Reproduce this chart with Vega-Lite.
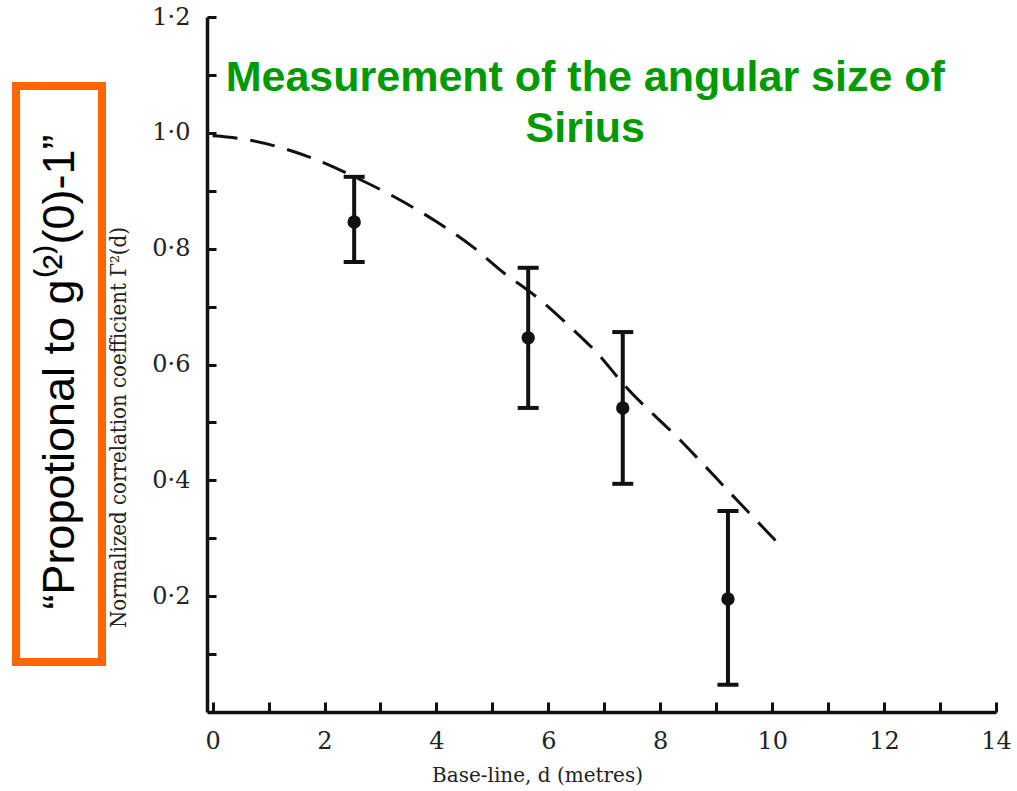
{
  "$schema": "https://vega.github.io/schema/vega-lite/v6.json",
  "width": 789,
  "height": 695,
  "autosize": "none",
  "padding": {"left": 207, "top": 17, "right": 21, "bottom": 79},
  "background": "white",
  "config": {"view": {"stroke": null}, "font": "DejaVu Serif"},
  "datasets": {
    "measurements": [
      {"d": 2.53, "g": 0.846, "lo": 0.777, "hi": 0.924},
      {"d": 5.64, "g": 0.646, "lo": 0.525, "hi": 0.767},
      {"d": 7.33, "g": 0.525, "lo": 0.394, "hi": 0.656},
      {"d": 9.21, "g": 0.195, "lo": 0.047, "hi": 0.347}
    ],
    "curve": [
      {"d": 0, "g": 0.995},
      {"d": 0.26, "g": 0.993},
      {"d": 1.79, "g": 0.956},
      {"d": 2.58, "g": 0.922},
      {"d": 3.35, "g": 0.884},
      {"d": 4.01, "g": 0.846},
      {"d": 4.65, "g": 0.803},
      {"d": 5.26, "g": 0.754},
      {"d": 5.64, "g": 0.728},
      {"d": 6.39, "g": 0.665},
      {"d": 6.87, "g": 0.62},
      {"d": 7.38, "g": 0.562},
      {"d": 8.35, "g": 0.47},
      {"d": 9.37, "g": 0.366},
      {"d": 10.17, "g": 0.285}
    ]
  },
  "layer": [
    {
      "data": {"name": "curve"},
      "mark": {"type": "line", "strokeDash": [25, 13], "strokeWidth": 3, "color": "#111", "interpolate": "monotone"},
      "encoding": {
        "x": {
          "field": "d", "type": "quantitative",
          "title": "Base-line, d (metres)",
          "scale": {"domain": [-0.1, 14], "nice": false, "zero": false},
          "axis": {
            "values": [0, 1, 2, 3, 4, 5, 6, 7, 8, 9, 10, 11, 12, 13, 14],
            "labelExpr": "datum.value % 2 == 0 ? format(datum.value, 'd') : ''",
            "titleFont": "DejaVu Serif", "titleFontSize": 20, "titleFontWeight": "normal", "titleColor": "#222",
            "titleX": 330, "titleY": 63, "titleAlign": "center", "titleBaseline": "middle",
            "labelFont": "DejaVu Serif", "labelFontSize": 24, "labelColor": "#222",
            "labelPadding": 27, "tickSize": -10, "tickWidth": 3, "tickColor": "#111",
            "domainWidth": 3.5, "domainColor": "#111", "grid": false,
            "labelOverlap": false, "labelBound": false, "labelFlush": false
          }
        },
        "y": {
          "field": "g", "type": "quantitative",
          "title": "Normalized correlation coefficient Γ²(d)",
          "scale": {"domain": [0, 1.2], "nice": false, "zero": false},
          "axis": {
            "values": [0.1, 0.2, 0.3, 0.4, 0.5, 0.6, 0.7, 0.8, 0.9, 1.0, 1.1, 1.2],
            "labelExpr": "round(datum.value*10) % 2 == 0 ? replace(format(datum.value, '.1f'), '.', '·') : ''",
            "titleFont": "DejaVu Serif Condensed, DejaVu Serif", "titleFontSize": 22, "titleFontWeight": "normal", "titleColor": "#222",
            "titleX": -89, "titleY": 410, "titleAngle": -90, "titleAlign": "center", "titleBaseline": "middle",
            "labelFont": "DejaVu Serif", "labelFontSize": 24, "labelColor": "#222",
            "labelPadding": 26, "tickSize": -9, "tickWidth": 3, "tickColor": "#111",
            "domainWidth": 3.5, "domainColor": "#111", "grid": false,
            "labelOverlap": false, "labelBound": false, "labelFlush": false
          }
        }
      }
    },
    {
      "data": {"name": "measurements"},
      "mark": {"type": "errorbar", "ticks": {"color": "#111", "opacity": 1}, "rule": {"color": "#111", "opacity": 1}, "size": 21, "thickness": 4},
      "encoding": {
        "x": {"field": "d", "type": "quantitative", "title": "Base-line, d (metres)", "scale": {"domain": [-0.1, 14], "nice": false, "zero": false}},
        "y": {"field": "lo", "type": "quantitative", "title": "Normalized correlation coefficient Γ²(d)", "scale": {"domain": [0, 1.2], "nice": false, "zero": false}},
        "y2": {"field": "hi"}
      }
    },
    {
      "data": {"name": "measurements"},
      "mark": {"type": "circle", "size": 180, "color": "#111", "opacity": 1},
      "encoding": {
        "x": {"field": "d", "type": "quantitative", "title": "Base-line, d (metres)", "scale": {"domain": [-0.1, 14], "nice": false, "zero": false}},
        "y": {"field": "g", "type": "quantitative", "title": "Normalized correlation coefficient Γ²(d)", "scale": {"domain": [0, 1.2], "nice": false, "zero": false}}
      }
    },
    {
      "data": {"values": [{}]},
      "mark": {"type": "rect", "fill": "white", "stroke": "#FF6600", "strokeWidth": 8},
      "encoding": {
        "x": {"datum": -3.513, "type": "quantitative", "scale": {"domain": [-0.1, 14], "nice": false, "zero": false}},
        "x2": {"datum": -1.976},
        "y": {"datum": 1.081, "type": "quantitative", "scale": {"domain": [0, 1.2], "nice": false, "zero": false}},
        "y2": {"datum": 0.0863}
      }
    },
    {
      "data": {"values": [{}]},
      "mark": {"type": "text", "angle": 270, "align": "center", "baseline": "middle", "font": "Liberation Sans", "fontSize": 45, "color": "#000"},
      "encoding": {
        "x": {"datum": -2.727, "type": "quantitative", "scale": {"domain": [-0.1, 14], "nice": false, "zero": false}},
        "y": {"datum": 0.587, "type": "quantitative", "scale": {"domain": [0, 1.2], "nice": false, "zero": false}},
        "text": {"value": "“Propotional to g⁽²⁾(0)-1”"}
      }
    },
    {
      "data": {"values": [{}]},
      "mark": {"type": "text", "align": "center", "baseline": "alphabetic", "font": "Liberation Sans", "fontWeight": "bold", "fontSize": 43, "lineHeight": 51, "color": "#009900"},
      "encoding": {
        "x": {"datum": 6.66, "type": "quantitative", "scale": {"domain": [-0.1, 14], "nice": false, "zero": false}},
        "y": {"datum": 1.072, "type": "quantitative", "scale": {"domain": [0, 1.2], "nice": false, "zero": false}},
        "text": {"value": ["Measurement of the angular size of", "Sirius"]}
      }
    }
  ]
}
